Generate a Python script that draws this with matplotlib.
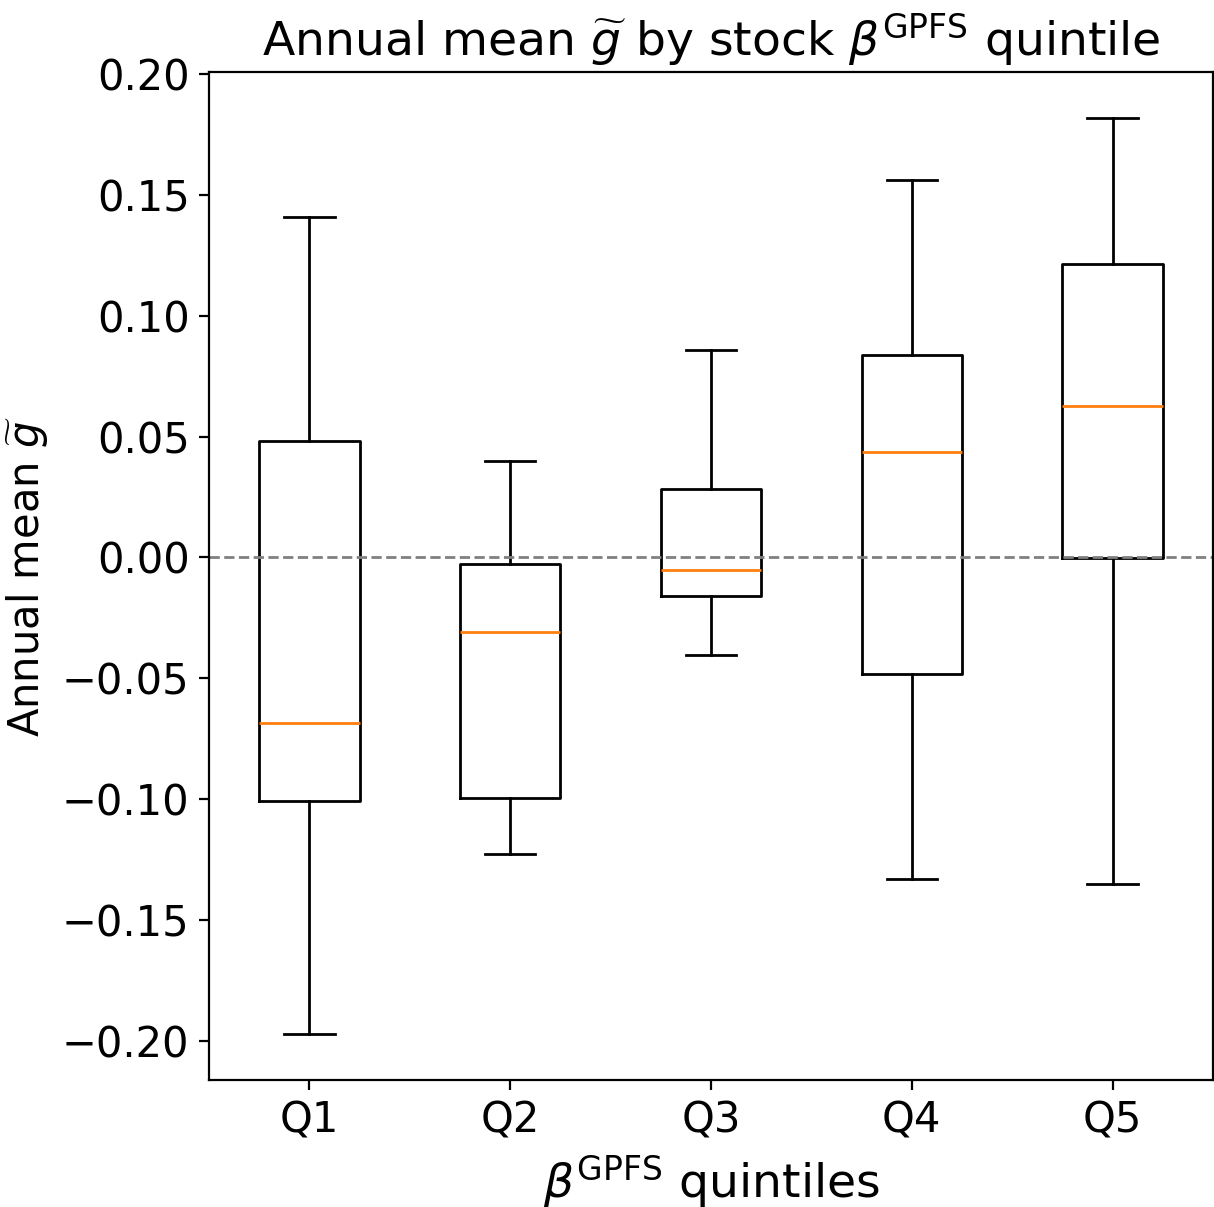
import matplotlib
matplotlib.use("Agg")
import matplotlib.pyplot as plt

labels = ["Q1", "Q2", "Q3", "Q4", "Q5"]
whislo = [-0.1971, -0.1227, -0.0405, -0.1331, -0.1351]
q1 = [-0.1008, -0.0996, -0.0161, -0.0483, -0.0004]
med = [-0.0686, -0.0310, -0.0050, 0.0438, 0.0628]
q3 = [0.0483, -0.0025, 0.0285, 0.0839, 0.1215]
whishi = [0.1409, 0.0397, 0.0860, 0.1562, 0.1818]

stats = [dict(label=l, whislo=a, q1=b, med=c, q3=d, whishi=e, fliers=[])
         for l, a, b, c, d, e in zip(labels, whislo, q1, med, q3, whishi)]

fig = plt.figure(figsize=(6.07, 6.035), dpi=200)
ax = fig.add_axes([209/1214, 127/1207, 1004/1214, 1008/1207])
ax.bxp(stats, showfliers=False)
ax.axhline(0, color="gray", linestyle="--", linewidth=1)
ax.set_title(r"Annual mean $\widetilde{g}$ by stock $\beta^{\mathrm{GPFS}}$ quintile", fontsize=17)
ax.set_ylabel(r"Annual mean $\widetilde{g}$", fontsize=15)
ax.set_xlabel(r"$\beta^{\mathrm{GPFS}}$ quintiles", fontsize=17)
ax.tick_params(labelsize=15)
fig.savefig("out.png", dpi=200)
